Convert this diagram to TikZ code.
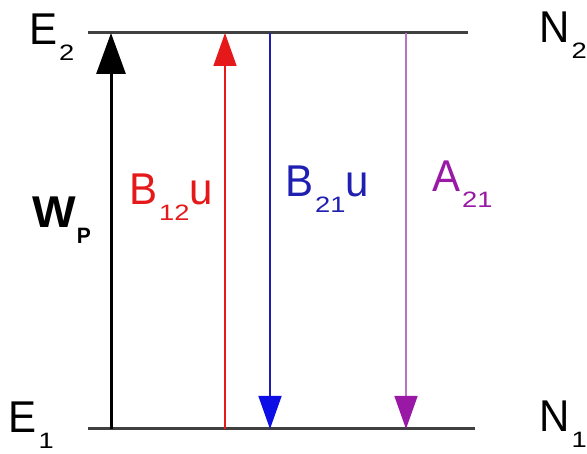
\documentclass[tikz,border=0pt]{standalone}
\usepackage{fontspec}
\setmainfont{Liberation Sans}
\usepackage{graphicx}
\usetikzlibrary{arrows.meta, positioning}
\definecolor{cLevel}{rgb}{0.25, 0.25, 0.25}
\definecolor{cAbs}{rgb}{0.9, 0.1, 0.1}
\definecolor{cStim}{rgb}{0.12, 0.12, 0.7}
\definecolor{cStimHead}{rgb}{0.05, 0.05, 0.9}
\definecolor{cSpont}{rgb}{0.6, 0.1, 0.65}
\definecolor{cSpontLine}{rgb}{0.72, 0.45, 0.78}
\newcommand{\tallbox}[1]{\scalebox{1}[1.06]{#1}}
\newcommand{\lo}[1]{\kern2pt\raisebox{-15pt}{\fontsize{21}{22}\selectfont\scalebox{1.3}[1]{#1}}}

\begin{document}
\begin{tikzpicture}[x=1pt, y=-1pt,
    level/.style={draw=cLevel, line width=3pt},
    pump/.style={-{Triangle[width=29pt, length=41pt]}, line width=3pt, black},
    thin arrow/.style={line width=1.5pt},
    lbl/.style={inner sep=0pt, anchor=base west, font=\fontsize{42}{44}\selectfont}
]
\useasboundingbox (0,0) rectangle (587,454);

% Energy levels
\coordinate (up-l) at (88,33);
\coordinate (up-r) at (468,33);
\coordinate (lo-l) at (88,429);
\coordinate (lo-r) at (475,429);
\draw[level] (up-l) -- (up-r);
\draw[level] (lo-l) -- (lo-r);

% Level and population labels
\node[lbl] (e2) at (29,45) {\tallbox{E\lo{2}}};
\node[lbl] (e1) at (8.5,433) {\tallbox{E\lo{1}}};
\node[lbl] (n2) at (539,43) {\tallbox{N\lo{2}}};
\node[lbl] (n1) at (539,432) {\tallbox{N\lo{1}}};

% Transitions
\coordinate (wp-b) at (111,429);
\coordinate (wp-t) at (111,33);
\coordinate (ab-b) at (225,429);
\coordinate (ab-t) at (225,33);
\coordinate (st-t) at (270,33);
\coordinate (st-b) at (270,429);
\coordinate (sp-t) at (406,33);
\coordinate (sp-b) at (406,429);
\draw[pump] (wp-b) -- (wp-t);
\draw[thin arrow, cAbs, -{Triangle[width=23pt, length=33pt]}] (ab-b) -- (ab-t);
\draw[thin arrow, cStim, -{Triangle[width=23pt, length=33pt, color=cStimHead]}] (st-t) -- (st-b);
\draw[thin arrow, cSpontLine, -{Triangle[width=23pt, length=33pt, color=cSpont]}] (sp-t) -- (sp-b);

% Rate labels
\node[lbl, font=\fontsize{42}{44}\selectfont\bfseries] (wp) at (32,228) {\tallbox{\scalebox{1.1}[1]{W}\kern1pt\raisebox{-15pt}{\fontsize{21}{22}\selectfont P}}};
\node[lbl, text=cAbs] (b12) at (129,205) {\tallbox{B\lo{12}\kern-0.5pt u}};
\node[lbl, text=cStim] (b21) at (285,197) {\tallbox{B\lo{21}\kern-0.5pt u}};
\node[lbl, text=cSpont] (a21) at (432,192) {\tallbox{A\lo{21}}};

\end{tikzpicture}
\end{document}
